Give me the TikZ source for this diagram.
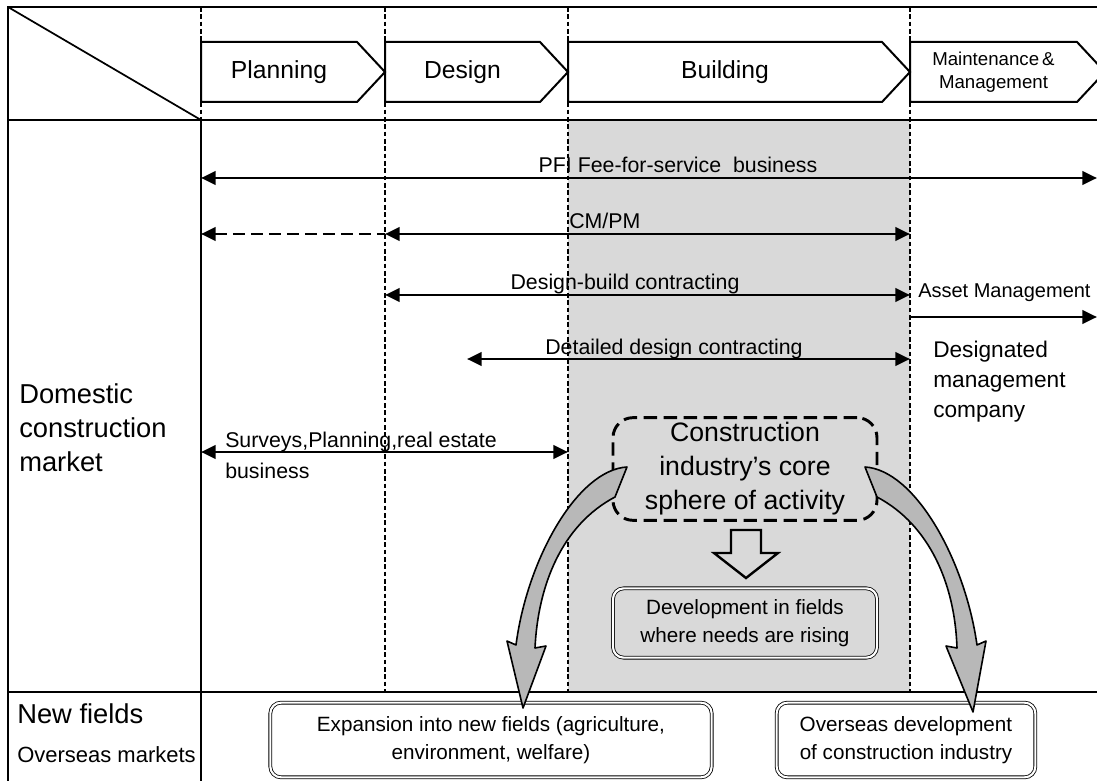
\documentclass[tikz,border=0pt]{standalone}
\usepackage{fontspec}
\setmainfont{Liberation Sans}
\usetikzlibrary{arrows.meta}
\usetikzlibrary{positioning}

\definecolor{buildgray}{gray}{0.85}
\definecolor{bendgray}{gray}{0.72}

\tikzset{
  frame/.style={line width=2.2pt},
  divider/.style={line width=1.1pt,dash pattern=on 3.5pt off 2pt},
  phaseline/.style={line width=1.5pt},
  spanarrow/.style={line width=2.2pt,>={Triangle[length=11pt,width=10pt]}},
  headfont/.style={font=\fontsize{18.5}{22}\selectfont,inner sep=0pt},
  smallhead/.style={font=\fontsize{14}{17}\selectfont,inner sep=0pt,align=center},
  rowfont/.style={font=\fontsize{16}{19}\selectfont,inner sep=0pt},
  sidefont/.style={font=\fontsize{20.5}{24}\selectfont,inner sep=0pt},
  corebox/.style={draw,line width=2.2pt,dash pattern=on 10pt off 5pt,rounded corners=15pt,
    font=\fontsize{20}{25.5}\selectfont,align=center,minimum width=198pt,minimum height=77pt},
  twinbox/.style={draw,double,double distance=1.6pt,line width=0.6pt,rounded corners=8pt,
    font=\fontsize{15.5}{20.5}\selectfont,align=center},
  hollow/.style={draw,line width=1.8pt,line join=miter},
  bentarrow/.style={draw,line width=1.2pt,fill=bendgray,line join=round}
}

\newcommand\phase[5]{
  \draw[phaseline] (#2,42) -- (#3-28,42) -- (#3,72) -- (#3-28,102) -- (#2,102) -- cycle;
  \node[#4] (#1) at ({(#2+#3-28)/2},72) {#5};
}
\newcommand\spanline[5]{
  \coordinate (#1-l) at (#2,#4);
  \coordinate (#1-r) at (#3,#4);
  \draw[spanarrow,#5] (#1-l) -- (#1-r);
}

\begin{document}
\begin{tikzpicture}[x=0.75pt,y=-0.75pt]
  %
  \useasboundingbox (0,0) rectangle (1097,781);
  \clip (0,0) rectangle (1097,781);

  \fill[buildgray] (568,120) rectangle (910,692);

  \foreach \x in {385,568,910} {
    \draw[divider] (\x,7) -- (\x,692);
  }
  \draw[divider] (201,7) -- (201,120);
  \draw[line width=1.5pt] (201,120) -- (201,800);
  \draw[line width=1.3pt] (8,7) -- (201,120);

  \draw[frame] (8,800) -- (8,7) -- (1110,7);
  \draw[frame] (8,120) -- (1110,120);
  \draw[frame] (8,692) -- (1110,692);

  \foreach \name/\xa/\xb/\txt in {plan/201/385/Planning,des/385/568/Design,bld/568/910/Building} {
    \phase{\name}{\xa}{\xb}{headfont}{\txt}
  }
  \phase{mnt}{910}{1105}{smallhead}{Maintenance\,\&\\Management}

  \foreach \name/\xa/\xb/\y/\tips in {pfi/201/1097/178/<->,cmpm/385/910/234/<->,
      db/385/910/295/<->,dd/467/910/359/<->,sv/201/568/452/<->,am/910/1097/317/->} {
    \spanline{\name}{\xa}{\xb}{\y}{\tips}
  }
  \coordinate (cmpm-d) at (201,234);
  \draw[spanarrow,<-,dash pattern=on 9pt off 4.5pt] (cmpm-d) -- (cmpm-l);

  \node[rowfont,anchor=base] (pfi-t) at (678,173) {PFI Fee-for-service\ \ business};
  \node[rowfont,anchor=base west] (cmpm-t) at (569,229) {CM/PM};
  \node[rowfont,anchor=base] (db-t) at (625,290) {Design-build contracting};
  \node[rowfont,anchor=base] (dd-t) at (674,354) {Detailed design contracting};
  \node[font=\fontsize{15}{18}\selectfont,inner sep=0pt,anchor=base west] (am-t) at (918,297) {Asset Management};
  \node[rowfont,anchor=base west] (sv-t) at (225,447) {Surveys,Planning,real estate};
  \node[rowfont,anchor=base west] (sv-b) at (225,478) {business};

  \foreach \word [count=\i] in {Designated,management,company} {
    \node[font=\fontsize{17}{20}\selectfont,inner sep=0pt,anchor=base west] (dmc\i) at (933,327+30*\i) {\word};
  }
  \foreach \word [count=\i] in {Domestic,construction,market} {
    \node[sidefont,anchor=base west] (dom\i) at (19,369+34*\i) {\word};
  }
  \node[sidefont,anchor=base west] (nf) at (17,723) {New fields};
  \node[font=\fontsize{16.5}{20}\selectfont,inner sep=0pt,anchor=base west] (om) at (17,762) {Overseas markets};

  \node[corebox] (core) at (745,469) {Construction\\industry’s core\\sphere of activity};
  \draw[hollow] (731,530) -- (761,530) -- (761,553) -- (778,553) -- (746,578)
    -- (714,553) -- (731,553) -- cycle;
  \node[twinbox,minimum width=198pt,minimum height=52pt] (dev) at (745,623)
    {Development in fields\\where needs are rising};

  \node[twinbox,minimum width=331pt,minimum height=56pt] (newf) at (491,740)
    {Expansion into new fields (agriculture,\\environment, welfare)};
  \node[twinbox,minimum width=194pt,minimum height=56pt] (ovs) at (906,740)
    {Overseas development\\of construction industry};

  \draw[bentarrow] (627,467) .. controls (577,470) and (527,560) .. (516,645) -- (507,641)
    -- (523,708) -- (546,646) -- (535,648) .. controls (538,585) and (562,525) .. (615,497) -- cycle;
  \draw[bentarrow] (865,467) .. controls (915,470) and (965,560) .. (977,645) -- (986,641)
    -- (973,712) -- (946,646) -- (957,648) .. controls (955,585) and (930,525) .. (877,497) -- cycle;

\end{tikzpicture}
\end{document}
